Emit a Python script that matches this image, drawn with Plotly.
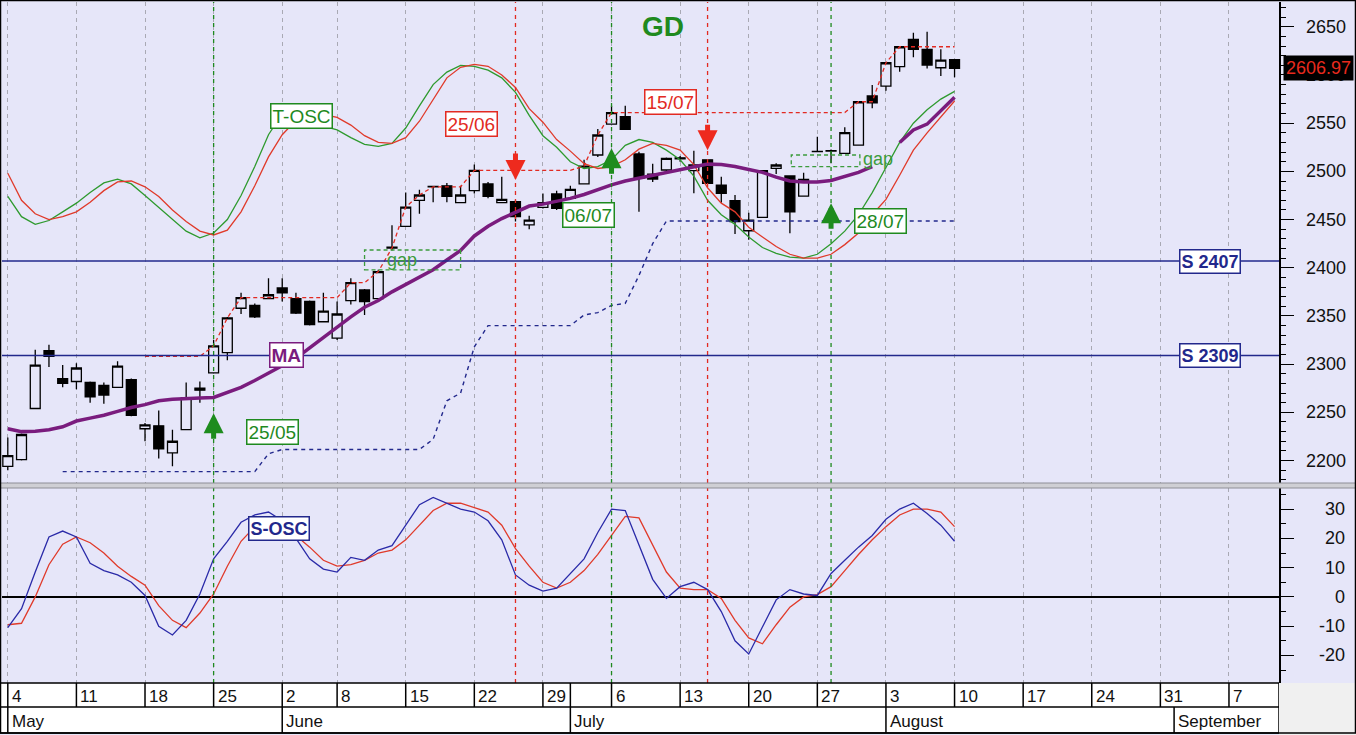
import plotly.graph_objects as go
from plotly.subplots import make_subplots

# ---- data (one candle per trading day) ----
dates = ["04/05", "05/05", "06/05", "07/05", "08/05", "11/05", "12/05", "13/05", "14/05", "15/05",
         "18/05", "19/05", "20/05", "21/05", "22/05", "25/05", "26/05", "27/05", "28/05", "29/05",
         "02/06", "03/06", "04/06", "05/06", "08/06", "09/06", "10/06", "11/06", "12/06", "15/06",
         "16/06", "17/06", "18/06", "19/06", "22/06", "23/06", "24/06", "25/06", "26/06", "29/06",
         "30/06", "01/07", "02/07", "03/07", "06/07", "07/07", "08/07", "09/07", "10/07", "13/07",
         "14/07", "15/07", "16/07", "17/07", "20/07", "21/07", "22/07", "23/07", "24/07", "27/07",
         "28/07", "29/07", "30/07", "31/07", "03/08", "04/08", "05/08", "06/08", "07/08", "10/08"]

opens = [2194, 2201, 2254, 2314, 2285, 2282, 2281, 2278, 2276, 2284,
         2233, 2236, 2208, 2232, 2275, 2291, 2312, 2358, 2361, 2368,
         2379, 2368, 2365, 2344, 2327, 2366, 2377, 2368, 2421.5, 2443,
         2470, 2484.5, 2485, 2467.5, 2480, 2487, 2467.5, 2468.5, 2444.5, 2462.7,
         2476.5, 2472, 2487, 2517, 2549, 2556.7, 2518, 2497, 2501.4, 2514,
         2500.7, 2512, 2485.8, 2469.6, 2438.4, 2452.3, 2503.2, 2495.2, 2474.4, 2520.4,
         2521.4, 2518.7, 2527.3, 2578.2, 2588.5, 2608.6, 2637, 2626.6, 2607.5, 2616]
highs = [2224, 2228, 2315, 2320, 2299, 2301, 2282, 2281, 2303, 2285,
         2239, 2252, 2232, 2281, 2282, 2325, 2349, 2374, 2363, 2389,
         2389, 2374, 2366, 2374, 2365, 2389, 2378, 2398, 2444, 2478,
         2481, 2485, 2488, 2485, 2507, 2489, 2494.5, 2470, 2454, 2477,
         2480, 2485, 2512, 2544, 2568, 2568, 2520.4, 2508, 2514.5, 2516,
         2521.4, 2512.5, 2494.5, 2475.5, 2457, 2500.7, 2508.3, 2496, 2498.6, 2536,
         2522.8, 2545.7, 2572.2, 2589.6, 2612.7, 2629.3, 2643.8, 2644.9, 2626.6, 2616.2]
lows = [2190, 2200, 2254, 2297, 2276, 2274, 2260, 2259, 2276, 2246,
        2220, 2202, 2194, 2232, 2260, 2291, 2304, 2352, 2348, 2368,
        2365, 2352, 2340, 2344, 2325, 2362, 2351, 2368, 2418, 2443,
        2456, 2468, 2468, 2467, 2477, 2472, 2467, 2448, 2440, 2461.6,
        2460, 2470.4, 2487, 2515, 2549, 2543, 2458, 2489, 2499.6, 2510,
        2477.2, 2487, 2467.5, 2435, 2429, 2452.3, 2497.2, 2435.7, 2474.4, 2520,
        2508.3, 2518.7, 2527.3, 2565.4, 2583.7, 2603.4, 2618.3, 2606.8, 2598.9, 2597.6]
closes = [2205, 2227, 2299, 2308, 2280, 2296, 2266, 2268, 2298, 2247,
          2237, 2212, 2220, 2265, 2273, 2319, 2348, 2369, 2349, 2372,
          2374, 2353, 2341, 2355, 2352, 2384.5, 2365, 2396, 2420.5, 2463,
          2475.5, 2484, 2474, 2475.5, 2501, 2474, 2471, 2453, 2449.5, 2467.5,
          2461.6, 2481.4, 2505.5, 2537.7, 2561, 2543.6, 2493, 2492, 2513.5, 2513,
          2506.6, 2487.6, 2477.2, 2447.8, 2449.5, 2500.7, 2506.6, 2458.1, 2491.7, 2520.8,
          2521, 2540.1, 2572.2, 2571.2, 2612.7, 2629.3, 2626.6, 2610.3, 2615.5, 2606.97]

ma = [2233, 2230, 2230.5, 2232, 2235, 2241, 2244, 2247, 2251, 2255,
      2258, 2262, 2263.5, 2264.5, 2265, 2265.5, 2271, 2276, 2283, 2291,
      2298, 2306, 2317, 2328, 2338, 2349, 2359, 2366, 2375, 2383,
      2391, 2398, 2408, 2418, 2433, 2443, 2451, 2458, 2464, 2466,
      2469, 2472, 2476, 2481, 2486, 2490, 2493, 2496, 2499, 2502,
      2505, 2507.5, 2507, 2505, 2502, 2499, 2494, 2490, 2489, 2489,
      2490.5, 2495, 2499, 2505, None, 2530, 2543, 2549, 2563, 2577]

tosc_fast = [2474, 2453, 2445, 2449, 2458, 2467, 2478, 2488, 2492, 2487,
             2475, 2463, 2450, 2438, 2431, 2436, 2450, 2475, 2505, 2538,
             2560, 2560, 2553, 2547, 2543, 2535, 2528, 2526, 2529, 2545,
             2568, 2590, 2603, 2610, 2609, 2605, 2597, 2582, 2558, 2537,
             2525, 2510, 2503, 2505, 2512, 2527, 2533, 2530, 2522, 2512,
             2495, 2470, 2455, 2445, 2432, 2421, 2415, 2411, 2410, 2414,
             2425, 2438, 2455, 2478, 2504, 2530, 2550, 2564, 2575, 2583]
tosc_slow = [2498, 2470, 2456, 2450, 2453, 2458, 2468, 2480, 2489, 2490,
             2484, 2474, 2460, 2448, 2438, 2434, 2439, 2458, 2485, 2515,
             2538, 2553, 2560, 2559, 2556, 2548, 2537, 2530, 2529, 2535,
             2552, 2575, 2597, 2608, 2611, 2609, 2600, 2587, 2565, 2551,
             2533, 2521, 2508, 2503, 2505, 2512, 2523, 2529, 2527, 2522,
             2507, 2483, 2467, 2458, 2442, 2432, 2422, 2414, 2410, 2410,
             2414, 2424, 2436, 2455, 2471, 2496, 2522, 2540, 2556, 2573]

resistance = [None, None, None, None, None, None, None, None, None, None,
              2308, 2308, 2308, 2308, 2308, 2319, 2348, 2369, 2369, 2369,
              2369, 2369, 2369, 2369, 2369, 2384.5, 2384.5, 2396, 2420.5, 2463,
              2475.5, 2484, 2484, 2484, 2501, 2501, 2501, 2501, 2501, 2501,
              2501, 2501, 2505.5, 2537.7, 2561, 2561, 2561, 2561, 2561, 2561,
              2561, 2561, 2561, 2561, 2561, 2561, 2561, 2561, 2561, 2561,
              2561, 2561, 2572.2, 2572.2, 2612.7, 2629.3, 2629.3, 2629.3, 2629.3, 2629.3]
support = [None, None, None, None, 2188.5, 2188.5, 2188.5, 2188.5, 2188.5, 2188.5,
           2188.5, 2188.5, 2188.5, 2188.5, 2188.5, 2188.5, 2188.5, 2188.5, 2188.5, 2207,
           2211.5, 2211.5, 2211.5, 2211.5, 2211.5, 2211.5, 2211.5, 2211.5, 2211.5, 2211.5,
           2211.5, 2222, 2262, 2270, 2318, 2340, 2340, 2340, 2340, 2340,
           2340, 2340, 2351, 2353.5, 2361, 2363, 2392, 2425, 2448.5, 2448.5,
           2448.5, 2448.5, 2448.5, 2448.5, 2448.5, 2448.5, 2448.5, 2448.5, 2448.5, 2448.5,
           2448.5, 2448.5, 2448.5, 2448.5, 2448.5, 2448.5, 2448.5, 2448.5, 2448.5, 2448.5]

sosc_fast = [-10.5, -4, 8.5, 20.5, 22.5, 20.5, 11.5, 9, 7.5, 5,
             0.5, -10, -13, -8, 1, 13, 19, 25.5, 28, 29,
             26, 20, 13, 9.5, 8.5, 13.5, 12.5, 16, 17.5, 24.5,
             31.5, 34, 32, 30, 29, 26, 19.5, 7.5, 4, 2,
             3, 8, 13, 22, 30, 29.5, 18, 6, -0.5, 3.5,
             5, 2.5, -5, -15, -19.5, -10.5, -1, 2.5, 1, 0.5,
             8, 12.5, 17, 21, 26.5, 30, 32, 28.5, 24.5, 19]
sosc_slow = [-9.5, -9, 0, 11, 18, 20.5, 18.5, 15, 10.5, 7,
             4, -3, -8, -10.5, -5.5, 1, 10.5, 19, 24, 27,
             25, 21, 17, 12.5, 10.5, 11, 12.5, 15, 16, 19.5,
             24.5, 29.5, 32, 32, 30.5, 29, 24.5, 16.5, 10.5, 5,
             3, 5, 9, 14.5, 21, 27.5, 27, 18, 8.5, 3,
             2.5, 2.5, -0.5, -8, -14, -16, -9.5, -3.5, 0, 0.8,
             3.5, 9, 14.5, 19.5, 24, 28, 30, 30, 29, 24]

s_levels = [2407, 2309]
last_price = 2606.97

# signals (trading-day position, arrow tip, arrow tail)
buy_days = [15, 44, 60]
buy_tip = [2249, 2524, 2467]
buy_tail = [2221, 2496, 2439]
sell_days = [37, 51]
sell_tip = [2491, 2522]
sell_tail = [2520, 2550]

# gaps (from day, to day, low, high)
gap_x0 = [26.0, 57.1]
gap_x1 = [33.0, 62.1]
gap_lo = [2397.7, 2505]
gap_hi = [2418.4, 2517]

# calendar axis
week_pos = [0, 5, 10, 15, 20, 24, 29, 34, 39, 44, 49, 54, 59, 64, 69, 74, 79, 84, 89]
week_text = ["4", "11", "18", "25", "2", "8", "15", "22", "29", "6",
             "13", "20", "27", "3", "10", "17", "24", "31", "7"]
month_pos = [0, 20, 41, 64, 85]
month_text = ["May", "June", "July", "August", "September"]
price_ticks = [2200, 2250, 2300, 2350, 2400, 2450, 2500, 2550, 2600, 2650]
osc_ticks = [-20, -10, 0, 10, 20, 30]

# ---- styling ----
BG = "#E6E6F9"
GREEN = "#1F8A1F"
RED = "#E22A22"
NAVY = "#22288C"
PURPLE = "#7A1C7E"
FONT = "Liberation Sans"

W, H = 1356, 735
ML, MR, MT, MB = 2, 77, 2, 52
PW, PH = W - ML - MR, H - MT - MB


def fx(px):
    return (px - ML) / PW


def fy(py):
    return (H - MB - py) / PH


x = list(range(len(dates)))

fig = make_subplots(rows=2, cols=1, shared_xaxes=True)

fig.add_trace(go.Candlestick(
    x=x, open=opens, high=highs, low=lows, close=closes, text=dates,
    increasing=dict(line=dict(color="black", width=1.3), fillcolor=BG),
    decreasing=dict(line=dict(color="black", width=1.3), fillcolor="black"),
    whiskerwidth=0, showlegend=False), row=1, col=1)

fig.add_trace(go.Scatter(x=x, y=tosc_fast, mode="lines", line=dict(color="#2E9A2E", width=1.3)), row=1, col=1)
fig.add_trace(go.Scatter(x=x, y=tosc_slow, mode="lines", line=dict(color="#E03A2A", width=1.3)), row=1, col=1)
fig.add_trace(go.Scatter(x=x, y=resistance, mode="lines",
                         line=dict(color=RED, width=1.3, dash="4px,3px")), row=1, col=1)
fig.add_trace(go.Scatter(x=x, y=support, mode="lines",
                         line=dict(color=NAVY, width=1.4, dash="4px,4px")), row=1, col=1)
fig.add_trace(go.Scatter(x=x, y=ma, mode="lines", line=dict(color=PURPLE, width=3.5)), row=1, col=1)

fig.add_trace(go.Scatter(x=x, y=sosc_slow, mode="lines", line=dict(color="#E03A2A", width=1.3)), row=2, col=1)
fig.add_trace(go.Scatter(x=x, y=sosc_fast, mode="lines", line=dict(color="#2A2AA8", width=1.3)), row=2, col=1)

xaxis_style = dict(range=[-0.4227, 92.646], tickvals=week_pos, showticklabels=False, ticks="",
                   showgrid=True, gridcolor="#A9A9B4", griddash="4px,4px", gridwidth=1,
                   zeroline=False, showline=False, rangeslider=dict(visible=False))
fig.update_layout(
    width=W, height=H, margin=dict(l=ML, r=MR, t=MT, b=MB),
    paper_bgcolor=BG, plot_bgcolor=BG, showlegend=False,
    boxgap=0.15, boxgroupgap=0.15,
    font=dict(family=FONT, color="black"),
    xaxis=xaxis_style, xaxis2=xaxis_style,
    yaxis=dict(domain=[fy(483), 1], range=[2176.7, 2675.7], side="right", dtick=50,
               ticks="outside", ticklen=13, tickwidth=1.3, tickcolor="black",
               minor=dict(dtick=10, ticks="outside", ticklen=5, tickcolor="black"),
               showline=True, linecolor="black", linewidth=1.5, showgrid=False, zeroline=False,
               showticklabels=False),
    yaxis2=dict(domain=[0, fy(488)], range=[-29.4, 37.2], side="right", dtick=10,
                ticks="outside", ticklen=13, tickwidth=1.3, tickcolor="black",
                minor=dict(dtick=5, ticks="outside", ticklen=5, tickcolor="black"),
                showline=True, linecolor="black", linewidth=1.5, showgrid=False,
                showticklabels=False, zeroline=True, zerolinecolor="black", zerolinewidth=1.6),
)

shapes = []
# signal day verticals
for d in buy_days:
    shapes.append(dict(type="line", xref="x", yref="paper", x0=d, x1=d, y0=0, y1=1,
                       line=dict(color=GREEN, width=1.3, dash="4px,4px")))
for d in sell_days:
    shapes.append(dict(type="line", xref="x", yref="paper", x0=d, x1=d, y0=0, y1=1,
                       line=dict(color=RED, width=1.3, dash="4px,4px")))
# support levels
for lv in s_levels:
    shapes.append(dict(type="line", xref="paper", yref="y", x0=0, x1=1, y0=lv, y1=lv,
                       line=dict(color=NAVY, width=1.4)))
# gap boxes
for a, b, lo, hi in zip(gap_x0, gap_x1, gap_lo, gap_hi):
    shapes.append(dict(type="rect", xref="x", yref="y", x0=a, x1=b, y0=lo, y1=hi,
                       line=dict(color="#3C9C3C", width=1.3, dash="4px,3px")))
# panel separator
shapes.append(dict(type="rect", xref="paper", yref="paper", x0=fx(0), x1=fx(W), y0=fy(488), y1=fy(483),
                   fillcolor="#CFCFD4", line=dict(color="#8E8E96", width=1)))
# calendar strip
shapes.append(dict(type="rect", xref="paper", yref="paper", x0=fx(0), x1=1, y0=fy(733), y1=0,
                   fillcolor="white", line=dict(color="black", width=1.5)))
shapes.append(dict(type="rect", xref="paper", yref="paper", x0=1, x1=fx(W), y0=fy(735), y1=0,
                   fillcolor="#F0F0F0", line=dict(width=0)))
shapes.append(dict(type="line", xref="paper", yref="paper", x0=fx(0), x1=1, y0=fy(707), y1=fy(707),
                   line=dict(color="black", width=1.5)))
for p in week_pos + [41]:
    shapes.append(dict(type="line", xref="x2", yref="paper", x0=p, x1=p, y0=fy(707), y1=0,
                       line=dict(color="black", width=1.5)))
for p in month_pos:
    shapes.append(dict(type="line", xref="x2", yref="paper", x0=p, x1=p, y0=fy(733), y1=fy(707),
                       line=dict(color="black", width=1.5)))
# outer frame
shapes.append(dict(type="rect", xref="paper", yref="paper", x0=fx(0.5), x1=fx(W - 0.5),
                   y0=fy(733), y1=fy(0.5), line=dict(color="black", width=1.5)))
fig.update_layout(shapes=shapes)

ann = []


def boxed(text, xv, yv, color, size=19, bold=False, xref="x", yref="y"):
    t = "<b>%s</b>" % text if bold else text
    return dict(text=t, x=xv, y=yv, xref=xref, yref=yref, showarrow=False,
                font=dict(family=FONT, size=size, color=color), bgcolor="white",
                bordercolor=color, borderwidth=1.5, borderpad=1)


ann.append(boxed("T-OSC", 21.4, 2557.4, GREEN))
ann.append(boxed("MA", 20.3, 2309.5, PURPLE, bold=True))
ann.append(boxed("25/05", 19.3, 2229.6, GREEN))
ann.append(boxed("25/06", 33.8, 2549.6, RED))
ann.append(boxed("06/07", 42.3, 2454.7, GREEN))
ann.append(boxed("15/07", 48.3, 2572, RED))
ann.append(boxed("28/07", 63.6, 2449, GREEN))
for lv in s_levels:
    ann.append(boxed("S %d" % lv, 87.6, lv, NAVY, size=18, bold=True))
ann.append(boxed("S-OSC", 19.8, 23.2, NAVY, size=18, bold=True, xref="x2", yref="y2"))

ann.append(dict(text="gap", x=28.7, y=2408, xref="x", yref="y", showarrow=False,
                font=dict(family=FONT, size=18, color="#3C9C3C")))
ann.append(dict(text="gap", x=63.4, y=2512.8, xref="x", yref="y", showarrow=False,
                font=dict(family=FONT, size=18, color="#3C9C3C")))

for d, tip, tail in zip(buy_days, buy_tip, buy_tail):
    ann.append(dict(x=d, y=tip, ax=d, ay=tail, xref="x", yref="y", axref="x", ayref="y", text="",
                    showarrow=True, arrowhead=2, arrowsize=0.8, arrowwidth=5, arrowcolor="#1E8C1E"))
for d, tip, tail in zip(sell_days, sell_tip, sell_tail):
    ann.append(dict(x=d, y=tip, ax=d, ay=tail, xref="x", yref="y", axref="x", ayref="y", text="",
                    showarrow=True, arrowhead=2, arrowsize=0.8, arrowwidth=5, arrowcolor="#EE2A1E"))

ann.append(dict(text="<b>GD</b>", x=fx(663), y=fy(27), xref="paper", yref="paper", showarrow=False,
                xanchor="center", yanchor="middle",
                font=dict(family=FONT, size=28, color=GREEN)))

# right axis labels, right aligned as in the original
for v in price_ticks:
    ann.append(dict(text=str(v), x=fx(1348), y=v, xref="paper", yref="y", xanchor="right",
                    yanchor="middle", showarrow=False, font=dict(family=FONT, size=18, color="#111111")))
for v in osc_ticks:
    ann.append(dict(text=str(v), x=fx(1347), y=v, xref="paper", yref="y2", xanchor="right",
                    yanchor="middle", showarrow=False, font=dict(family=FONT, size=18, color="#111111")))
ann.append(dict(text="2606.97", x=fx(1283), y=last_price, xref="paper", yref="y", xanchor="left",
                yanchor="middle", showarrow=False, bgcolor="black", borderpad=2,
                font=dict(family=FONT, size=18, color="#E82A1E")))

for p, t in zip(week_pos, week_text):
    ann.append(dict(text=t, x=p, y=fy(696), xref="x2", yref="paper", xanchor="left", yanchor="middle",
                    xshift=2, showarrow=False, font=dict(family=FONT, size=17, color="#111111")))
for p, t in zip(month_pos, month_text):
    ann.append(dict(text=t, x=p, y=fy(721), xref="x2", yref="paper", xanchor="left", yanchor="middle",
                    xshift=2, showarrow=False, font=dict(family=FONT, size=17, color="#111111")))

fig.update_layout(annotations=ann)

fig.write_html("out.html", config={"displayModeBar": False},
               post_script="document.body.style.margin='0px';")
